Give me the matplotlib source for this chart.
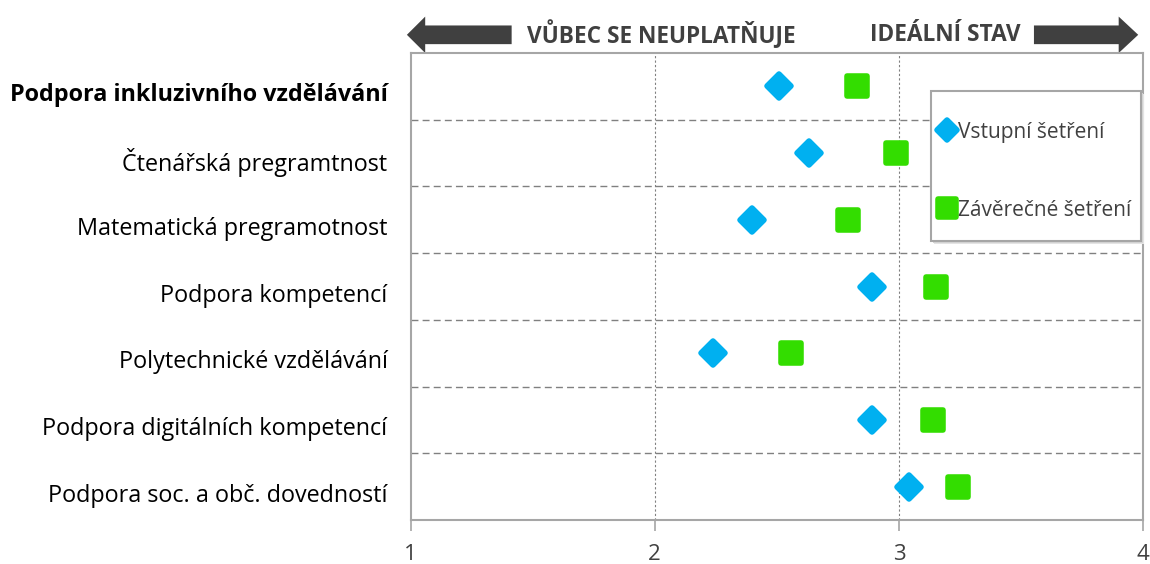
import matplotlib
matplotlib.use('Agg')
import matplotlib.pyplot as plt
from matplotlib.markers import MarkerStyle
from matplotlib.patches import Polygon, Rectangle
from matplotlib.transforms import blended_transform_factory

categories = ['Podpora inkluzivního vzdělávání', 'Čtenářská pregramtnost',
              'Matematická pregramotnost', 'Podpora kompetencí',
              'Polytechnické vzdělávání', 'Podpora digitálních kompetencí',
              'Podpora soc. a obč. dovedností']
vstupni = [2.51, 2.63, 2.40, 2.89, 2.24, 2.89, 3.04]
zaverecne = [2.83, 2.99, 2.79, 3.15, 2.56, 3.14, 3.24]
xticks = [1, 2, 3, 4]

plt.rcParams['font.family'] = ['Open Sans', 'DejaVu Sans']
blue = '#00B0F0'
green = '#33DD00'
grey = '#404040'

fig = plt.figure(figsize=(11.5, 5.64), dpi=100)
ax = fig.add_axes([0.357, 0.078, 0.637, 0.828])

ypos = list(range(len(categories)))
dia = MarkerStyle('D', joinstyle='round')
sq = MarkerStyle('s', joinstyle='round')
ax.plot(vstupni, ypos, ls='none', marker=dia, ms=12.5, color=blue, mec=blue,
        mew=4, label='Vstupní šetření', zorder=3)
ax.plot(zaverecne, ypos, ls='none', marker=sq, ms=15, color=green, mec=green,
        mew=4, label='Závěrečné šetření', zorder=3)

ax.set_xlim(1, 4)
ax.set_ylim(len(categories) - 0.5, -0.5)

# separators between rows
for i in range(len(categories) - 1):
    ax.axhline(i + 0.5, color='#808080', lw=1, ls=(0, (5, 3)), zorder=1)
for x in xticks[1:-1]:
    ax.axvline(x, color='#808080', lw=0.8, ls=(0, (2, 2)), zorder=1)

for s in ax.spines.values():
    s.set_color('#A6A6A6')
    s.set_linewidth(1.5)

ax.set_xticks(xticks)
ax.set_xticklabels([str(v) for v in xticks], fontsize=16, color=grey)
ax.tick_params(axis='x', length=8, width=1.2, color='#A6A6A6', pad=9)
ax.set_yticks([])

# category labels, sitting a little below the row centre
for i, name in enumerate(categories):
    ax.annotate(name, xy=(0, ypos[i]), xycoords=('axes fraction', 'data'),
                xytext=(-23, -9), textcoords='offset pixels', ha='right', va='center',
                fontsize=16.8, color='black', fontweight='bold' if i == 0 else 'normal')

# header arrows
tr = blended_transform_factory(ax.transData, ax.transAxes)
ymid = 1.039
sh = 0.02
hh = 0.039
left_arrow = [(1.414, ymid - sh), (1.414, ymid + sh), (1.06, ymid + sh), (1.06, ymid + hh),
              (0.985, ymid), (1.06, ymid - hh), (1.06, ymid - sh)]
right_arrow = [(3.553, ymid - sh), (3.553, ymid + sh), (3.9, ymid + sh), (3.9, ymid + hh),
               (3.98, ymid), (3.9, ymid - hh), (3.9, ymid - sh)]
for pts in (left_arrow, right_arrow):
    ax.add_patch(Polygon(pts, closed=True, transform=tr, clip_on=False,
                         facecolor=grey, edgecolor='none'))
ax.text(1.475, ymid, 'VŮBEC SE NEUPLATŇUJE', transform=tr, ha='left', va='center',
        fontsize=16.3, fontweight='bold', color=grey)
ax.text(3.50, ymid, 'IDEÁLNÍ STAV', transform=tr, ha='right', va='center',
        fontsize=16.3, fontweight='bold', color=grey)

# legend box with soft shadow
bx0, by0, bw, bh = 0.7104, 0.597, 0.2869, 0.3216
for k, c in ((3, '#E4E4E4'), (2, '#D4D4D4')):
    ax.add_patch(Rectangle((bx0 + k * 0.0014, by0 - k * 0.0022), bw, bh, transform=ax.transAxes,
                           facecolor=c, edgecolor='none', zorder=4, clip_on=False))
ax.add_patch(Rectangle((bx0, by0), bw, bh, transform=ax.transAxes, facecolor='white',
                       edgecolor='#A6A6A6', lw=1.5, zorder=4, clip_on=False))
leg = ax.legend(loc='upper left', bbox_to_anchor=(0.721, 0.853), fontsize=15,
                frameon=False, handlelength=0.8, handletextpad=0.13,
                labelspacing=2.74, borderpad=0, borderaxespad=0, labelcolor=grey,
                markerscale=0.85)
leg.set_zorder(5)

fig.savefig('out.png', dpi=100)
